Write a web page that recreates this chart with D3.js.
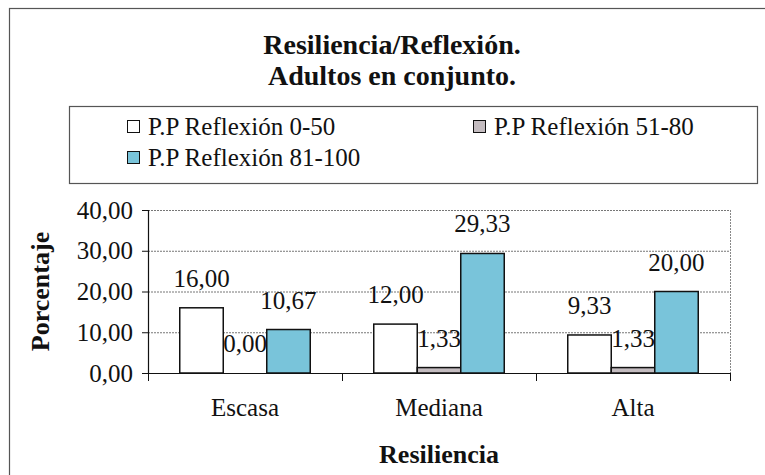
<!DOCTYPE html>
<html><head><meta charset="utf-8">
<script src="https://cdn.jsdelivr.net/npm/d3@7"></script>
<style>body{margin:0;background:#fff}svg{display:block}svg text{font-family:'Liberation Serif','DejaVu Serif',serif !important;fill:#111}</style>
</head><body><svg id="c" width="765" height="475"></svg>
<script>
const categories = ["Escasa", "Mediana", "Alta"];
const seriesNames = ["P.P Reflexión 0-50", "P.P Reflexión 51-80", "P.P Reflexión 81-100"];
const series0_50 = [16.00, 12.00, 9.33];
const series51_80 = [0.00, 1.33, 1.33];
const series81_100 = [10.67, 29.33, 20.00];
const yTicks = [0, 10, 20, 30, 40];
const titleLines = ["Resiliencia/Reflexión.", "Adultos en conjunto."];
const xTitle = "Resiliencia";
const yTitle = "Porcentaje";
const colors = ["#ffffff", "#c4bcc0", "#79c4da"];

const values = [series0_50, series51_80, series81_100];
const fmt = v => d3.format(".2f")(v).replace(".", ",");
const FF = "'Liberation Serif','DejaVu Serif',serif";

const svg = d3.select("#c");
svg.append("rect").attr("x", 9.5).attr("y", 8.5).attr("width", 770).attr("height", 480)
  .attr("fill", "#fff").attr("stroke", "#555").attr("stroke-width", 1.2);

const L = 148, R = 730, T = 210, B = 373;
const x0 = d3.scaleBand().domain(categories).range([L, R]).padding(0);
const x1 = d3.scaleBand().domain(d3.range(3)).range([0, x0.bandwidth()]).paddingInner(0).paddingOuter(0.73);
const y = d3.scaleLinear().domain([0, 40]).range([B, T]);

// title
svg.selectAll(".title").data(titleLines).join("text")
  .attr("x", 392).attr("y", (d, i) => 54 + i * 31).attr("font-family", FF)
  .attr("text-anchor", "middle").attr("font-weight", "bold").attr("font-size", 28).text(d => d);

// legend
svg.append("rect").attr("x", 69.5).attr("y", 106.5).attr("width", 688).attr("height", 77)
  .attr("fill", "#fff").attr("stroke", "#555").attr("stroke-width", 1.2);
const legPos = [[127, 127], [473, 127], [127, 158]];
const lg = svg.selectAll(".leg").data(seriesNames).join("g")
  .attr("transform", (d, i) => `translate(${legPos[i][0]},${legPos[i][1]})`);
lg.append("rect").attr("x", 0.5).attr("y", -6.5).attr("width", 12).attr("height", 12)
  .attr("fill", (d, i) => colors[i]).attr("stroke", "#111").attr("stroke-width", 1);
lg.append("text").attr("x", 21).attr("y", 8).attr("font-size", 25).attr("font-family", FF).text(d => d);

// gridlines
svg.append("g").selectAll("line").data(yTicks.filter(t => t > 0)).join("line")
  .attr("x1", L).attr("x2", R).attr("y1", d => y(d) + 0.5).attr("y2", d => y(d) + 0.5)
  .attr("stroke", "#777").attr("stroke-width", 1).attr("stroke-dasharray", "2,1");
svg.append("line").attr("x1", R + 0.5).attr("x2", R + 0.5).attr("y1", T).attr("y2", B)
  .attr("stroke", "#888").attr("stroke-dasharray", "2,1");

// bars
const groups = svg.append("g").selectAll("g").data(categories).join("g")
  .attr("transform", d => `translate(${x0(d)},0)`);
groups.selectAll("rect").data((d, ci) => values.map((s, si) => ({ si, v: s[ci] }))).join("rect")
  .attr("x", d => x1(d.si)).attr("width", x1.bandwidth())
  .attr("y", d => y(d.v)).attr("height", d => B - y(d.v))
  .attr("fill", d => colors[d.si]).attr("stroke", "#111").attr("stroke-width", 1.5);
groups.selectAll("text").data((d, ci) => values.map((s, si) => ({ si, v: s[ci] }))).join("text")
  .attr("x", d => x1(d.si) + x1.bandwidth() / 2).attr("y", d => y(d.v) - 21)
  .attr("text-anchor", "middle").attr("font-size", 25).attr("font-family", FF).text(d => fmt(d.v));

// y axis
const yAxis = d3.axisLeft(y).tickValues(yTicks).tickFormat(fmt).tickSize(6).tickPadding(9);
const ya = svg.append("g").attr("transform", `translate(${L},0)`).call(yAxis)
  .attr("font-family", FF).attr("font-size", 25);
ya.select(".domain").attr("stroke", "#111").attr("stroke-width", 1.2);
ya.selectAll(".tick line").attr("stroke", "#111");
ya.selectAll(".tick text").attr("fill", "#111");

// x axis
const xAxis = d3.axisBottom(x0).tickValues([]).tickSizeOuter(0);
const xa = svg.append("g").attr("transform", `translate(0,${B})`).call(xAxis)
  .attr("font-family", FF).attr("font-size", 25);
xa.select(".domain").attr("stroke", "#111").attr("stroke-width", 1.2);
const bounds = categories.map(c => x0(c)).concat([R]);
xa.selectAll(".xt").data(bounds).join("line").attr("x1", d => d + 0.5).attr("x2", d => d + 0.5)
  .attr("y1", 0).attr("y2", 8).attr("stroke", "#111");
xa.selectAll(".xl").data(categories).join("text")
  .attr("x", d => x0(d) + x0.bandwidth() / 2).attr("y", 43)
  .attr("text-anchor", "middle").attr("fill", "#111").text(d => d);

// axis titles
svg.append("text").attr("x", (L + R) / 2).attr("y", 463).attr("text-anchor", "middle").attr("font-family", FF)
  .attr("font-weight", "bold").attr("font-size", 26).text(xTitle);
svg.append("text").attr("transform", `translate(49,${(T + B) / 2}) rotate(-90)`).attr("font-family", FF)
  .attr("text-anchor", "middle").attr("font-weight", "bold").attr("font-size", 26).text(yTitle);
</script></body></html>
